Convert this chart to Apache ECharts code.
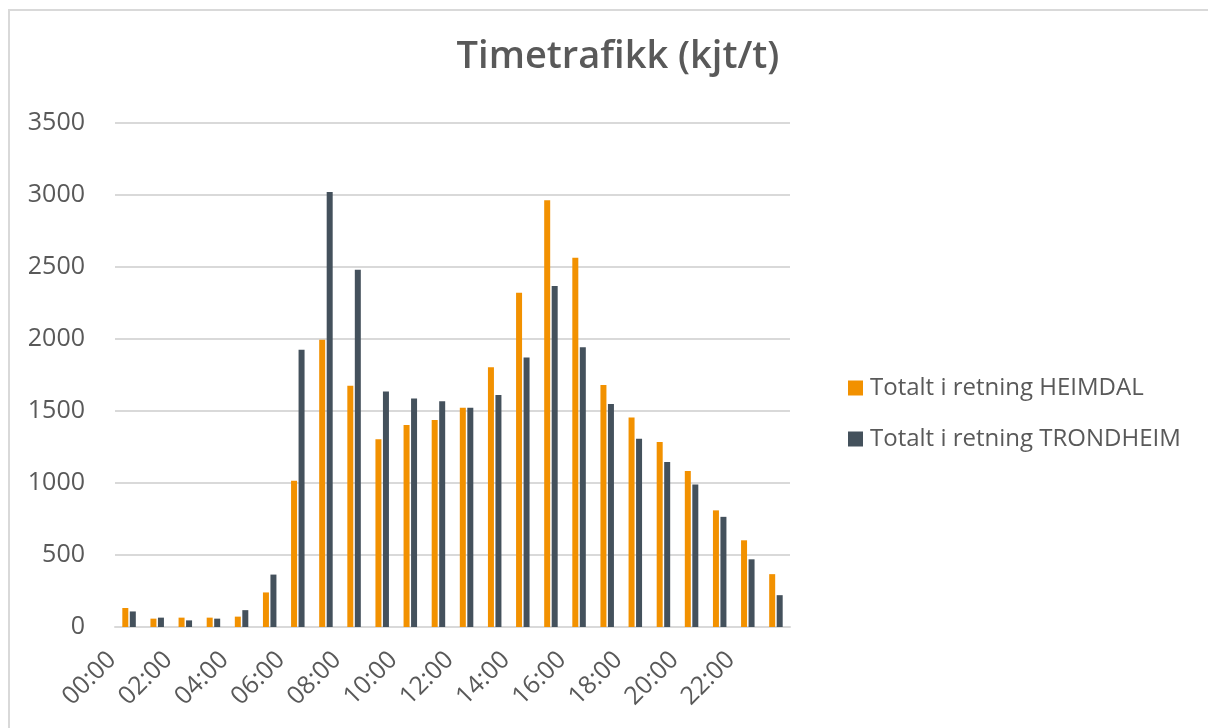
<!DOCTYPE html>
<html>
<head>
<meta charset="utf-8">
<script src="https://cdn.jsdelivr.net/npm/echarts@6/dist/echarts.min.js"></script>
<style>
  html, body { margin: 0; padding: 0; background: #fff; overflow: hidden; }
  .frame {
    position: absolute; left: 8px; top: 9px;
    width: 1240px; height: 760px;
    border: 2px solid #d9d9d9;
  }
  #chart { position: absolute; left: 0; top: 0; width: 1208px; height: 728px; }
</style>
</head>
<body>
<div class="frame"></div>
<div id="chart"></div>
<script>
// timer i døgnet
const hours = ['00:00','01:00','02:00','03:00','04:00','05:00','06:00','07:00','08:00','09:00','10:00','11:00',
  '12:00','13:00','14:00','15:00','16:00','17:00','18:00','19:00','20:00','21:00','22:00','23:00'];
const heimdal = [132, 58, 65, 65, 72, 240, 1016, 1995, 1676, 1304, 1402, 1438,
  1522, 1803, 2321, 2963, 2565, 1680, 1455, 1285, 1084, 810, 602, 367];
const trondheim = [108, 65, 46, 58, 117, 364, 1925, 3021, 2481, 1635, 1587, 1568,
  1522, 1611, 1872, 2368, 1942, 1549, 1307, 1146, 990, 765, 470, 221];
const yTicks = [0, 500, 1000, 1500, 2000, 2500, 3000, 3500];

const font = 'Open Sans';
const options = {
  textStyle: { fontFamily: font },
  animation: false,
  title: {
    text: 'Timetrafikk (kjt/t)',
    left: 613,
    textAlign: 'center',
    top: 33,
    textStyle: { color: '#595959', fontSize: 38, fontWeight: 600, fontFamily: font }
  },
  legend: {
    orient: 'vertical',
    left: 843,
    top: 371,
    itemWidth: 15,
    itemHeight: 15,
    itemGap: 27,
    icon: 'rect',
    textStyle: { color: '#595959', fontSize: 24, fontFamily: font, padding: [0, 0, 0, 2] },
    data: ['Totalt i retning HEIMDAL', 'Totalt i retning TRONDHEIM']
  },
  grid: { left: 115, right: 418, top: 123, bottom: 101 },
  xAxis: {
    type: 'category',
    data: hours,
    axisLine: { lineStyle: { color: '#d9d9d9', width: 2 } },
    axisTick: { show: false },
    axisLabel: {
      interval: 1,
      rotate: 45,
      color: '#595959',
      fontSize: 25,
      margin: 12,
      padding: [0, 24, 0, 0],
      fontFamily: font
    }
  },
  yAxis: {
    type: 'value',
    min: yTicks[0],
    max: yTicks[yTicks.length - 1],
    interval: 500,
    axisLine: { show: false },
    axisTick: { show: false },
    axisLabel: {
      color: '#595959', fontSize: 25, margin: 30, fontFamily: font,
      formatter: v => String(v)
    },
    splitLine: { lineStyle: { color: '#d9d9d9', width: 2 } }
  },
  series: [
    {
      name: 'Totalt i retning HEIMDAL',
      type: 'bar',
      data: heimdal,
      barWidth: 6,
      barGap: '25%',
      itemStyle: { color: '#F29100' }
    },
    {
      name: 'Totalt i retning TRONDHEIM',
      type: 'bar',
      data: trondheim,
      barWidth: 6,
      itemStyle: { color: '#44515C' }
    }
  ]
};

echarts.init(document.getElementById('chart')).setOption(options);
</script>
</body>
</html>
